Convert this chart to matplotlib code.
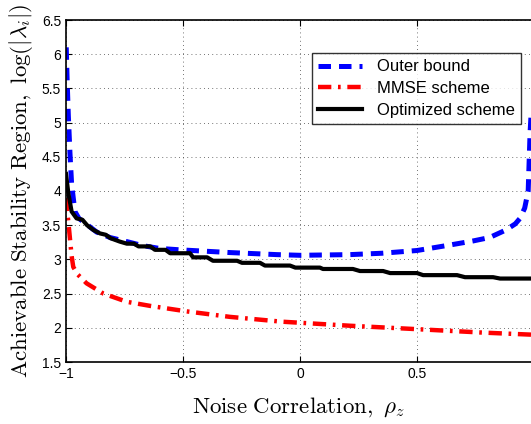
import matplotlib
matplotlib.use("Agg")
import matplotlib.pyplot as plt
import numpy as np

plt.rcParams["mathtext.fontset"] = "cm"
plt.rcParams["font.family"] = ["Liberation Sans", "DejaVu Sans"]

# Outer bound (blue dashed)
outer_x = [-0.999, -0.995, -0.99, -0.983, -0.976, -0.962, -0.945, -0.926, -0.869, -0.812,
           -0.74, -0.67, -0.6, -0.513, -0.3, -0.1, 0.0, 0.214, 0.35, 0.5,
           0.64, 0.74, 0.81, 0.88, 0.92, 0.94, 0.96, 0.975, 0.983, 0.987]
outer_y = [6.1, 5.6, 5.1, 4.55, 4.1, 3.7, 3.6, 3.55, 3.40, 3.32,
           3.26, 3.20, 3.16, 3.14, 3.10, 3.07, 3.06, 3.07, 3.09, 3.13,
           3.21, 3.27, 3.32, 3.43, 3.52, 3.60, 3.75, 4.0, 4.85, 5.1]

# MMSE scheme (red dash-dot)
mmse_x = [-1.0, -0.995, -0.99, -0.983, -0.976, -0.969, -0.95, -0.912, -0.84, -0.74,
          -0.64, -0.484, -0.3, -0.08, 0.214, 0.5, 0.78, 0.987]
mmse_y = [3.9, 3.7, 3.55, 3.3, 3.05, 2.89, 2.78, 2.65, 2.50, 2.38,
          2.32, 2.24, 2.16, 2.09, 2.03, 1.98, 1.93, 1.90]

# Optimized scheme (black, quantized steps)
opt_x = [-1.0, -0.99, -0.976, -0.955, -0.93, -0.91, -0.883, -0.855, -0.83, -0.81,
         -0.77, -0.74, -0.71, -0.69, -0.64, -0.62, -0.575, -0.555, -0.47, -0.457,
         -0.397, -0.372, -0.269, -0.248, -0.171, -0.15, -0.043, -0.02, 0.085, 0.098,
         0.226, 0.256, 0.355, 0.385, 0.50, 0.526, 0.671, 0.705, 0.825, 0.855, 0.987]
opt_y = [4.25, 3.97, 3.70, 3.60, 3.58, 3.50, 3.43, 3.38, 3.36, 3.31,
         3.26, 3.23, 3.23, 3.19, 3.19, 3.14, 3.14, 3.09, 3.09, 3.03,
         3.03, 2.98, 2.98, 2.95, 2.95, 2.91, 2.91, 2.88, 2.88, 2.86,
         2.86, 2.83, 2.83, 2.80, 2.80, 2.77, 2.77, 2.74, 2.74, 2.72, 2.72]

xticks = [-1, -0.5, 0, 0.5]
xticklabels = ["\u22121", "\u22120.5", "0", "0.5"]
yticks = [1.5, 2, 2.5, 3, 3.5, 4, 4.5, 5, 5.5, 6, 6.5]
yticklabels = ["1.5", "2", "2.5", "3", "3.5", "4", "4.5", "5", "5.5", "6", "6.5"]

fig = plt.figure(figsize=(5.31, 4.24), dpi=100)
ax = fig.add_axes([66 / 531, 62 / 424, 1 - 66 / 531, (362 - 20) / 424])

ax.plot(outer_x, outer_y, color="#0000ff", ls=(0, (2.5, 1.6)), lw=3.6, label="Outer bound")
ax.plot(mmse_x, mmse_y, color="#ff0000", ls=(0, (3, 1.5, 0.6, 1.5)), lw=3.2, label="MMSE scheme")
ax.plot(opt_x, opt_y, color="black", lw=3.0, label="Optimized scheme")

ax.set_xlim(-1, 0.987)
ax.set_ylim(1.5, 6.5)
ax.set_xticks(xticks)
ax.set_xticklabels(xticklabels)
ax.set_yticks(yticks)
ax.set_yticklabels(yticklabels)
ax.tick_params(direction="in", top=True, right=False, labelsize=10, length=4, width=0.8)
ax.grid(True, ls=(0, (1, 4)), color="#444444", lw=0.6)
ax.spines["right"].set_visible(False)
for s in ["left", "top", "bottom"]:
    ax.spines[s].set_linewidth(1.2)

ax.set_xlabel(r"$\mathrm{Noise\ Correlation,\ }\rho_z$", fontsize=16.5, labelpad=10)
ax.set_ylabel(r"$\mathrm{Achievable\ Stability\ Region,\ }\log(|\lambda_i|)$", fontsize=16.5, labelpad=5)

leg = ax.legend(loc="upper right", bbox_to_anchor=(0.979, 0.904), borderaxespad=0,
                fontsize=12, handlelength=2.6, frameon=True, fancybox=False,
                edgecolor="black", borderpad=0.4, labelspacing=0.4, handletextpad=0.9)
leg.get_frame().set_linewidth(1.0)

fig.savefig("out.png", dpi=100)
